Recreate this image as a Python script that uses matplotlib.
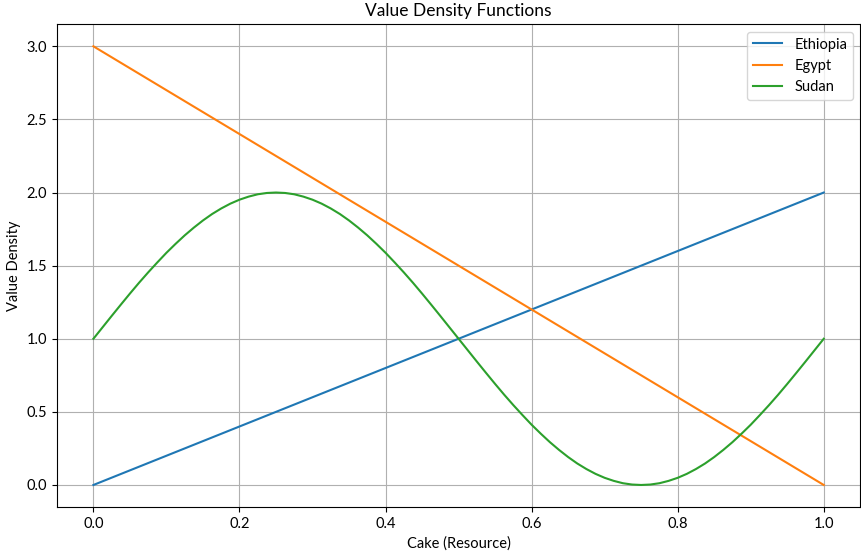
import numpy as np
import matplotlib.pyplot as plt

plt.rcParams['font.family'] = ['Lato', 'DejaVu Sans']

# straight lines: values read at both ends
line_x = [0.0, 1.0]
ethiopia = [0.0, 2.0]
egypt = [3.0, 0.0]

# sudan curve read every 0.0125 along the cake
sudan_x = np.linspace(0.0, 1.0, 81)
sudan = [1.000, 1.078, 1.156, 1.233, 1.309, 1.383, 1.454, 1.522, 1.588, 1.649,
         1.707, 1.760, 1.809, 1.853, 1.891, 1.924, 1.951, 1.972, 1.988, 1.997,
         2.000, 1.997, 1.988, 1.972, 1.951, 1.924, 1.891, 1.853, 1.809, 1.760,
         1.707, 1.649, 1.588, 1.522, 1.454, 1.383, 1.309, 1.233, 1.156, 1.078,
         1.000, 0.922, 0.844, 0.767, 0.691, 0.617, 0.546, 0.478, 0.412, 0.351,
         0.293, 0.240, 0.191, 0.147, 0.109, 0.076, 0.049, 0.028, 0.012, 0.003,
         0.000, 0.003, 0.012, 0.028, 0.049, 0.076, 0.109, 0.147, 0.191, 0.240,
         0.293, 0.351, 0.412, 0.478, 0.546, 0.617, 0.691, 0.767, 0.844, 0.922,
         1.000]

fig, ax = plt.subplots(figsize=(8.62, 5.54), dpi=100)
fig.subplots_adjust(left=0.066, right=0.998, top=0.956, bottom=0.085)

ax.plot(line_x, ethiopia, color='#1f77b4', lw=1.5, label='Ethiopia')
ax.plot(line_x, egypt, color='#ff7f0e', lw=1.5, label='Egypt')
ax.plot(sudan_x, sudan, color='#2ca02c', lw=1.5, label='Sudan')

ax.set_title('Value Density Functions', fontsize=12.5)
ax.set_xlabel('Cake (Resource)', fontsize=10.5)
ax.set_ylabel('Value Density', fontsize=10.5)
ax.tick_params(labelsize=10.5)
ax.grid(True)
ax.legend(loc='upper right', fontsize=10.5)

plt.savefig('out.png', dpi=100)
